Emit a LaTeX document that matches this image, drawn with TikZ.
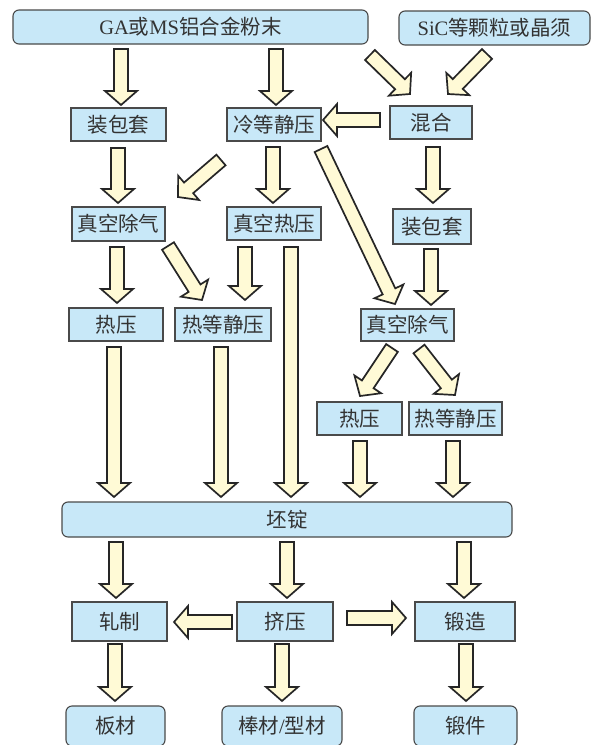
\documentclass[tikz,border=0pt]{standalone}
\usepackage{fontspec}
\setmainfont{Noto Sans CJK SC}
\newfontfamily\latf{Liberation Serif}
\usetikzlibrary{calc}
\definecolor{boxfill}{HTML}{C8E8F8}
\definecolor{arrfill}{HTML}{FFFAD6}
\definecolor{boxline}{HTML}{4A4A4A}
\definecolor{txt}{HTML}{333333}
\tikzset{
  bx/.style={draw=boxline, line width=1.1pt, fill=boxfill, inner sep=0pt, text=txt, font=\fontsize{20.5}{20.5}\selectfont},
  rbx/.style={bx, rounded corners=6pt},
  arr/.style={draw=black!85, line width=1.7pt, fill=arrfill, line join=miter}
}
\newcommand\barrow[2]{%
  \coordinate (bh) at ($(#2)!14pt!(#1)$);
  \draw[arr] ($(#1)!7pt!90:(#2)$) -- ($(bh)!7pt!-90:(#1)$) -- ($(bh)!16pt!-90:(#1)$) -- (#2)
    -- ($(bh)!16pt!90:(#1)$) -- ($(bh)!7pt!90:(#1)$) -- ($(#1)!7pt!-90:(#2)$) -- cycle;}
\begin{document}
\begin{tikzpicture}[x=1pt,y=-1pt]
\clip (0,0) rectangle (595,745);
\fill[white] (0,0) rectangle (595,745);
% boxes
\node[rbx, minimum width=355pt, minimum height=34pt] (ga) at (190.5,27) {{\latf GA}或{\latf MS}铝合金粉末};
\node[rbx, minimum width=191pt, minimum height=34pt] (sic) at (494.5,28) {{\latf SiC}等颗粒或晶须};
\node[bx, minimum width=95pt, minimum height=33pt] (bao1) at (118.5,124.5) {装包套};
\node[bx, minimum width=94pt, minimum height=33pt] (ldj) at (274,124.5) {冷等静压};
\node[bx, minimum width=82pt, minimum height=33pt] (hh) at (431,122.5) {混合};
\node[bx, minimum width=93pt, minimum height=34pt] (zk1) at (118.5,224) {真空除气};
\node[bx, minimum width=94pt, minimum height=33pt] (zkrh) at (274,223.5) {真空热压};
\node[bx, minimum width=78pt, minimum height=35pt] (bao2) at (432,226.5) {装包套};
\node[bx, minimum width=94pt, minimum height=33pt] (ry1) at (116,324.5) {热压};
\node[bx, minimum width=96pt, minimum height=33pt] (rdj1) at (223,324.5) {热等静压};
\node[bx, minimum width=93pt, minimum height=32pt] (zk2) at (407.5,325) {真空除气};
\node[bx, minimum width=85pt, minimum height=33pt] (ry2) at (359.5,418.5) {热压};
\node[bx, minimum width=93pt, minimum height=33pt] (rdj2) at (455.5,418.5) {热等静压};
\node[rbx, minimum width=450pt, minimum height=35pt] (pd) at (287,519.5) {坯锭};
\node[bx, minimum width=95pt, minimum height=39pt] (zz) at (119.5,621.5) {轧制};
\node[bx, minimum width=96pt, minimum height=39pt] (jy) at (285,621.5) {挤压};
\node[bx, minimum width=100pt, minimum height=39pt] (dz) at (465,621.5) {锻造};
\node[rbx, minimum width=99pt, minimum height=40pt] (bc) at (115.5,726) {板材};
\node[rbx, minimum width=120pt, minimum height=40pt] (bxc) at (282,726) {棒材{\latf /}型材};
\node[rbx, minimum width=103pt, minimum height=40pt] (dj) at (465.5,726) {锻件};
% arrow end points
\coordinate (a1s) at (121,49);  \coordinate (a1e) at (121,105);
\coordinate (a2s) at (276,49);  \coordinate (a2e) at (276,105);
\coordinate (a3s) at (370,55);  \coordinate (a3e) at (410,94);
\coordinate (a4s) at (487,54);  \coordinate (a4e) at (448,94);
\coordinate (a5s) at (380,120); \coordinate (a5e) at (323,120);
\coordinate (a6s) at (118,148); \coordinate (a6e) at (118,203);
\coordinate (a7s) at (221,160); \coordinate (a7e) at (178,197);
\coordinate (a8s) at (273,147); \coordinate (a8e) at (273,203);
\coordinate (a9s) at (321,149); \coordinate (a9e) at (395,304);
\coordinate (a10s) at (433,147); \coordinate (a10e) at (433,203);
\coordinate (a11s) at (117,247); \coordinate (a11e) at (117,303);
\coordinate (a12s) at (168,246); \coordinate (a12e) at (202,300);
\coordinate (a13s) at (245,247); \coordinate (a13e) at (245,300);
\coordinate (a14s) at (291,247); \coordinate (a14e) at (291,497);
\coordinate (a15s) at (431,249); \coordinate (a15e) at (431,305);
\coordinate (a16s) at (392,348); \coordinate (a16e) at (360,396);
\coordinate (a17s) at (419,349); \coordinate (a17e) at (455,395);
\coordinate (a18s) at (114,347); \coordinate (a18e) at (114,497);
\coordinate (a19s) at (221,347); \coordinate (a19e) at (221,497);
\coordinate (a20s) at (360,441); \coordinate (a20e) at (360,497);
\coordinate (a21s) at (453,441); \coordinate (a21e) at (453,497);
\coordinate (a22s) at (116,542); \coordinate (a22e) at (116,598);
\coordinate (a23s) at (287,542); \coordinate (a23e) at (287,598);
\coordinate (a24s) at (464,542); \coordinate (a24e) at (464,598);
\coordinate (a25s) at (232,622); \coordinate (a25e) at (174,622);
\coordinate (a26s) at (347,618); \coordinate (a26e) at (406,618);
\coordinate (a27s) at (115,644); \coordinate (a27e) at (115,701);
\coordinate (a28s) at (282,644); \coordinate (a28e) at (282,701);
\coordinate (a29s) at (466,644); \coordinate (a29e) at (466,701);
\foreach \i in {1,...,29}{\barrow{a\i s}{a\i e}}
\end{tikzpicture}
\end{document}
